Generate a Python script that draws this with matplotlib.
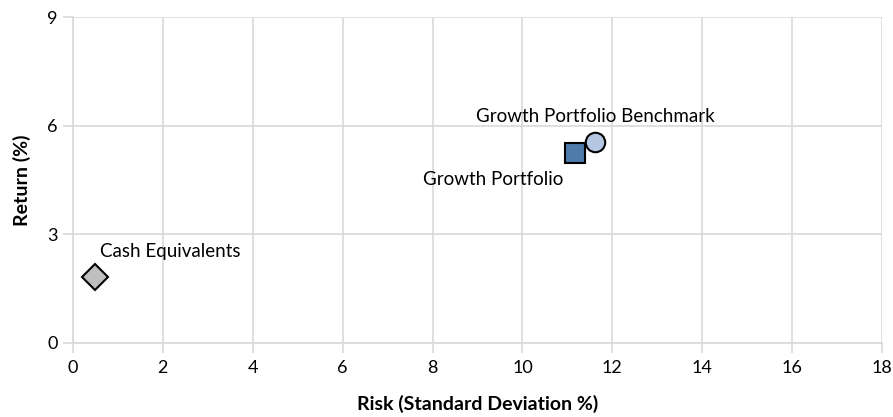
import matplotlib
matplotlib.use('Agg')
import matplotlib.pyplot as plt

# datos -------
nombres = ['Cash Equivalents', 'Growth Portfolio', 'Growth Portfolio Benchmark']
riesgo = [0.50, 11.17, 11.62]
retorno = [1.83, 5.24, 5.56]
marcadores = ['D', 's', 'o']
colores = ['#bfbfbf', '#4f7bab', '#b4c7e2']
tamanos = [13, 14, 14]

x_ticks = [0, 2, 4, 6, 8, 10, 12, 14, 16, 18]
y_ticks = [0, 3, 6, 9]

plt.rcParams['font.family'] = ['Lato', 'DejaVu Sans']

fig = plt.figure(figsize=(8.93, 4.17), dpi=100)
ax = fig.add_axes([0.0817, 0.1775, 0.906, 0.7815])

for x, y, m, c, s in zip(riesgo, retorno, marcadores, colores, tamanos):
    ax.plot(x, y, marker=m, color=c, markersize=s, markeredgecolor='black',
            markeredgewidth=1.5, linestyle='none', zorder=3)

# etiquetas de los puntos
ax.annotate(nombres[0], (riesgo[0], retorno[0]), xytext=(3, 18),
            textcoords='offset points', ha='left', va='center', fontsize=13.5)
ax.annotate(nombres[1], (riesgo[1], retorno[1]), xytext=(-59, -19),
            textcoords='offset points', ha='center', va='center', fontsize=13.5)
ax.annotate(nombres[2], (riesgo[2], retorno[2]), xytext=(0, 18),
            textcoords='offset points', ha='center', va='center', fontsize=13.5)

ax.set_xlim(0, 18)
ax.set_ylim(0, 9)
ax.set_xticks(x_ticks)
ax.set_yticks(y_ticks)
ax.grid(True, color='#d9d9d9', linewidth=1.2)
ax.set_axisbelow(True)
for lado in ['top', 'right']:
    ax.spines[lado].set_visible(False)
for lado in ['left', 'bottom']:
    ax.spines[lado].set_color('#d9d9d9')
    ax.spines[lado].set_linewidth(1.2)
ax.tick_params(axis='both', colors='#d9d9d9', labelcolor='black', labelsize=13,
               length=7, width=1.2)
ax.tick_params(axis='x', pad=5)
ax.tick_params(axis='y', pad=4)

ax.set_xlabel('Risk (Standard Deviation %)', fontsize=14, fontweight='bold', labelpad=14)
ax.set_ylabel('Return (%)', fontsize=14, fontweight='bold', labelpad=12)

fig.savefig('out.png', dpi=100)
